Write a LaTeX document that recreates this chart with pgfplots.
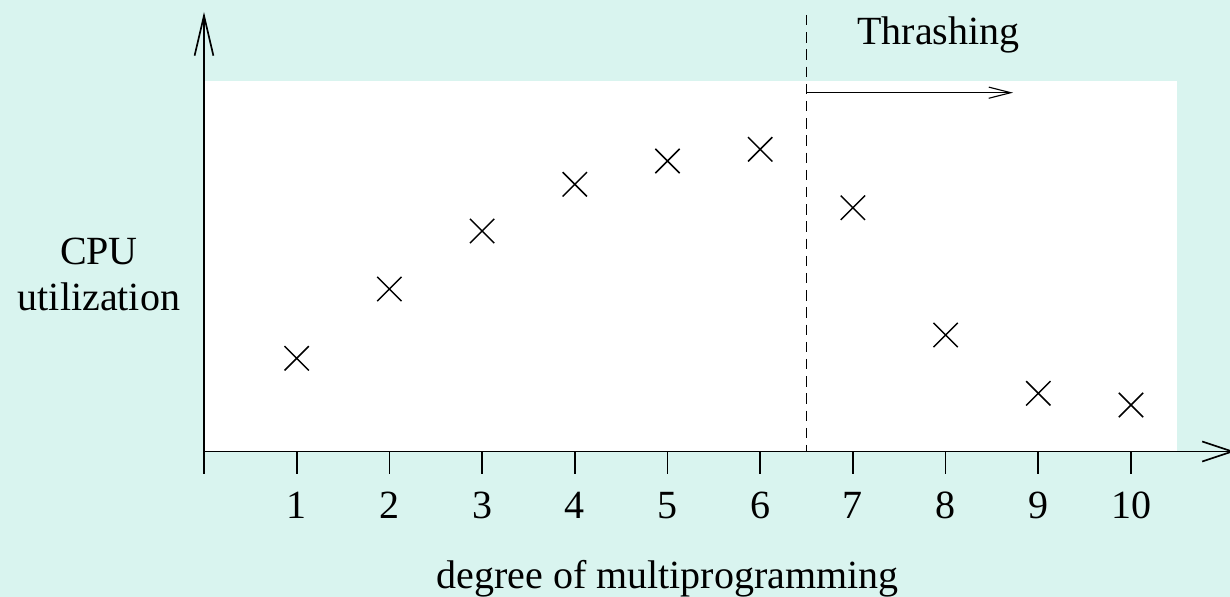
\documentclass[border=0pt]{standalone}
\usepackage{fontspec}
\setmainfont{Liberation Serif}
\usepackage{pgfplots}
\pgfplotsset{compat=1.18}
\usetikzlibrary{arrows.meta}
\definecolor{mint}{RGB}{217,244,239}
\begin{document}
\begin{tikzpicture}
\begin{axis}[
  x=23.175pt, y=0.25pt,
  xmin=0, xmax=11.12, ymin=0, ymax=439.5,
  axis lines=left,
  axis line style={line width=0.42pt},
  x axis line style={-{Straight Barb[length=7.5pt,width=5pt,line width=0.42pt]}},
  y axis line style={-{Straight Barb[length=10pt,width=4.7pt,line width=0.42pt]}},
  xtick={0,1,...,10},
  xticklabels={,1,2,3,4,5,6,7,8,9,10},
  ytick=\empty,
  tick align=outside,
  major tick length=5.6pt,
  tick style={line width=0.42pt, black},
  xticklabel style={yshift=-1pt},
  clip=false,
  axis on top,
  /pgf/number format/assume math mode=true,
]
\fill[mint] (axis cs:-2.2006,-145.5) rectangle (axis cs:11.068,451.5);
\coordinate (bbSW) at (axis cs:-2.2006,-145.5);
\coordinate (bbNE) at (axis cs:11.068,451.5);
\fill[white] (axis cs:0,0) rectangle (axis cs:10.5,370.8);
\draw[dash pattern=on 2.6pt off 1.7pt, line width=0.28pt] (axis cs:6.5,436.5) -- (axis cs:6.5,0);
\draw[line width=0.28pt, -{Straight Barb[length=5.5pt,width=2.8pt,line width=0.28pt]}] (axis cs:6.5,358.8) -- (axis cs:8.727,358.8);
\addplot[only marks, mark=x, mark size=4.3pt, mark options={line width=0.36pt, black}] coordinates {
(1,93.2) (2,162.5) (3,220.5) (4,267.2) (5,290.5) (6,302.2) (7,243.8) (8,116.5) (9,58.2) (10,46.5)
};
\node[anchor=base, inner sep=0pt] at (axis cs:7.923,406.5) {Thrashing};
\node[anchor=base, inner sep=0pt] at (axis cs:-1.133,186.5) {CPU};
\node[anchor=base, inner sep=0pt] at (axis cs:-1.133,140.5) {utilization};
\node[anchor=base, inner sep=0pt] at (axis cs:5,-137.5) {degree of multiprogramming};
\end{axis}
\pgfresetboundingbox
\useasboundingbox (bbSW) rectangle (bbNE);
\end{tikzpicture}
\end{document}
